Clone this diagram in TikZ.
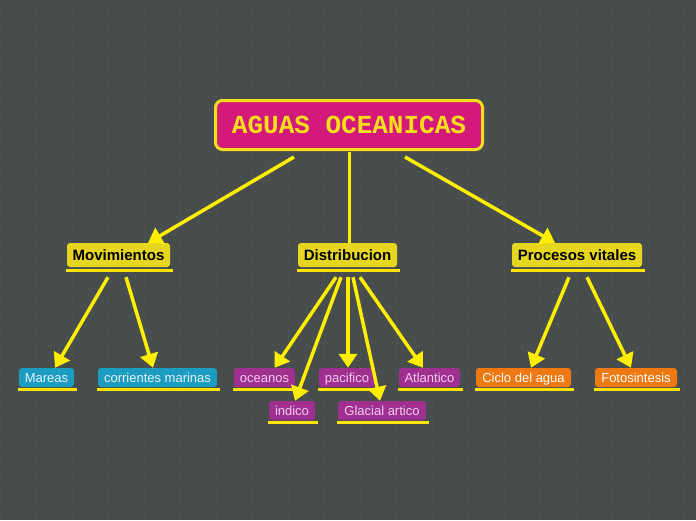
\documentclass[tikz,border=0pt]{standalone}
\usepackage{fontspec}
\setmainfont{Liberation Sans}
\newfontfamily\monof{Liberation Mono}
\usetikzlibrary{arrows.meta}
\definecolor{bg}{HTML}{474C4C}
\definecolor{gridc}{HTML}{4B5050}
\definecolor{magent}{HTML}{D31A7B}
\definecolor{gold}{HTML}{F5DE1A}
\definecolor{lvlfill}{HTML}{E7D61F}
\definecolor{lineyel}{HTML}{FFEE00}
\definecolor{ulyel}{HTML}{FFE400}
\definecolor{leafblue}{HTML}{1B9CC0}
\definecolor{leafpurple}{HTML}{A0308F}
\definecolor{leaforange}{HTML}{EE7811}
\definecolor{txtblue}{HTML}{E4F4F8}
\definecolor{txtpurple}{HTML}{F2CCF0}
\tikzset{
  titlebox/.style={fill=magent, draw=gold, line width=3pt, rounded corners=7pt,
    minimum width=267pt, minimum height=49pt, inner sep=0pt,
    text=gold, font=\monof\bfseries\fontsize{26}{28}\selectfont},
  lvlbox/.style={fill=lvlfill, rounded corners=3pt, inner sep=0pt,
    text height=11pt, text depth=1pt,
    minimum height=24pt, text=black, font=\bfseries\fontsize{15}{17}\selectfont},
  leafbox/.style={rounded corners=3pt, inner sep=0pt, minimum height=19pt,
    text height=9.8pt, text depth=0.8pt,
    font=\fontsize{13}{15}\selectfont},
  blueleaf/.style={leafbox, fill=leafblue, text=txtblue},
  purpleleaf/.style={leafbox, fill=leafpurple, text=txtpurple},
  orangeleaf/.style={leafbox, fill=leaforange, text=white},
  uline/.style={draw=ulyel, line width=3pt},
  conn/.style={draw=lineyel, line width=3.5pt, -{Triangle[length=14pt,width=18pt]}},
  connplain/.style={draw=lineyel, line width=3.5pt},
}
\begin{document}
\begin{tikzpicture}[x=1pt,y=-1pt]
\fill[bg] (0,0) rectangle (696,520);
\useasboundingbox (0,0) rectangle (696,520);
\foreach \i in {0,18,...,696} \draw[gridc, line width=0.6pt] (\i,0) -- (\i,520);
\foreach \j in {0,18,...,520} \draw[gridc, line width=0.6pt] (0,\j) -- (696,\j);

% nodes
\node[titlebox] (title) at (349,125) {AGUAS OCEANICAS};
\node[lvlbox, minimum width=103pt] (mov) at (118.5,255) {Movimientos};
\node[lvlbox, minimum width=99pt] (dist) at (347.5,255) {Distribucion};
\node[lvlbox, minimum width=130pt] (proc) at (577,255) {Procesos vitales};

\node[blueleaf, minimum width=55pt] (mar) at (46.5,377.5) {Mareas};
\node[blueleaf, minimum width=119pt] (cor) at (157.5,377.5) {corrientes marinas};
\node[purpleleaf, minimum width=61pt] (oce) at (264.5,377.5) {oceanos};
\node[purpleleaf, minimum width=56pt] (pac) at (347,377.5) {pacifico};
\node[purpleleaf, minimum width=61pt] (atl) at (429.5,377.5) {Atlantico};
\node[purpleleaf, minimum width=46pt] (ind) at (292,410.5) {indico};
\node[purpleleaf, minimum width=88pt] (gla) at (382,410.5) {Glacial artico};
\node[orangeleaf, minimum width=95pt] (cic) at (523.5,377.5) {Ciclo del agua};
\node[orangeleaf, minimum width=82pt] (fot) at (636,377.5) {Fotosintesis};

% underlines
\foreach \n in {mov,dist,proc}
  \draw[uline] ([shift={(-1,3)}]\n.south west) -- ([shift={(3,3)}]\n.south east);
\foreach \n in {mar,cor,oce,pac,atl,ind,gla,cic,fot}
  \draw[uline] ([shift={(-1,2.5)}]\n.south west) -- ([shift={(2.5,2.5)}]\n.south east);

% connectors
\draw[conn] ([xshift=-55pt,yshift=-6pt]title.south) -- ([xshift=29.5pt]mov.north);
\draw[connplain] ([xshift=0.5pt,yshift=-1pt]title.south) -- ([xshift=2pt]dist.north);
\draw[conn] ([xshift=56pt,yshift=-6pt]title.south) -- ([xshift=-22pt]proc.north);

\draw[conn] ([xshift=-10.5pt,yshift=-10pt]mov.south) -- ([xshift=8.5pt]mar.north);
\draw[conn] ([xshift=7.5pt,yshift=-10pt]mov.south) -- ([xshift=-4.5pt]cor.north);

\draw[conn] ([xshift=-11.5pt,yshift=-10pt]dist.south) -- ([xshift=10pt]oce.north);
\draw[conn] ([xshift=-6.5pt,yshift=-10pt]dist.south) -- ([xshift=3pt]ind.north);
\draw[conn] ([xshift=0.5pt,yshift=-10pt]dist.south) -- ([xshift=1pt]pac.north);
\draw[conn] ([xshift=5.5pt,yshift=-10pt]dist.south) -- ([xshift=-2pt]gla.north);
\draw[conn] ([xshift=12.5pt,yshift=-10pt]dist.south) -- ([xshift=-6.5pt]atl.north);

\draw[conn] ([xshift=-8pt,yshift=-10pt]proc.south) -- ([xshift=7.5pt]cic.north);
\draw[conn] ([xshift=10pt,yshift=-10pt]proc.south) -- ([xshift=-5pt]fot.north);
\end{tikzpicture}
\end{document}
